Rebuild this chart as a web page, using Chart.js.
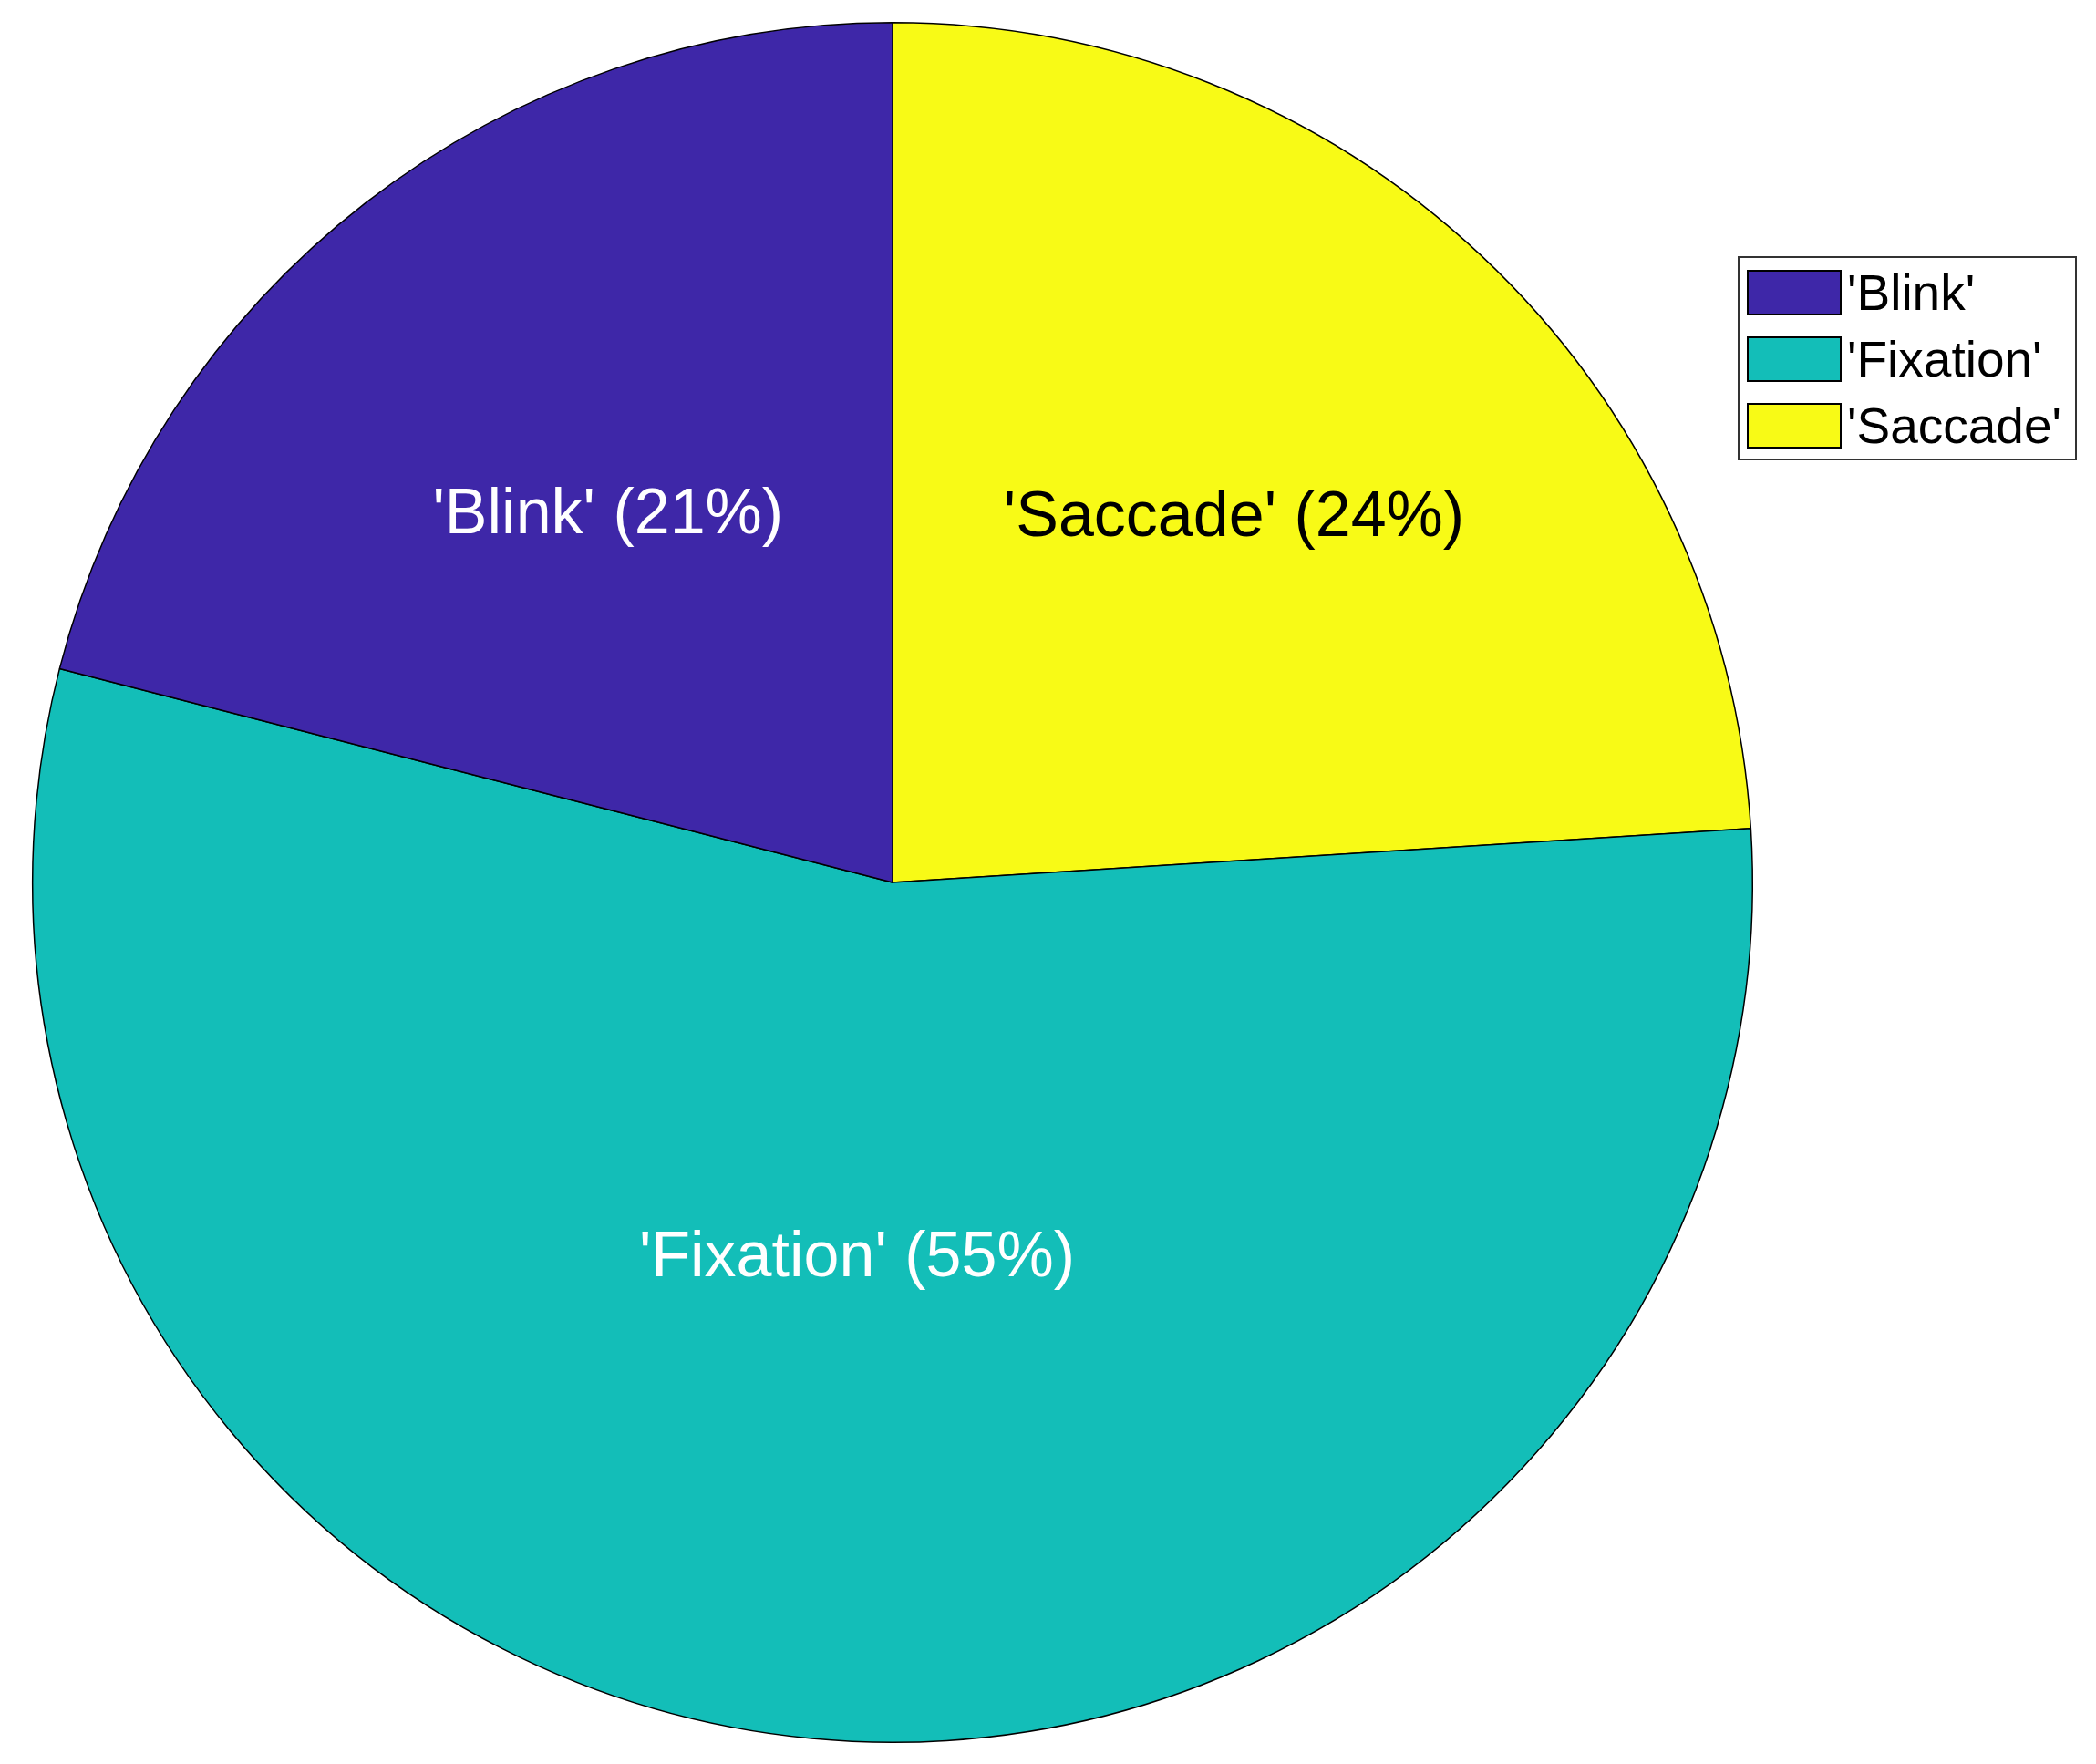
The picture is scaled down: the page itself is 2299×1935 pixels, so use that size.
<!DOCTYPE html>
<html><head><meta charset="utf-8">
<script src="https://cdn.jsdelivr.net/npm/chart.js@4/dist/chart.umd.min.js"></script>
<style>
html,body{margin:0;padding:0;background:#fff;}
#wrap{position:relative;width:2299px;height:1935px;}
#legend{position:absolute;left:1906px;top:281px;width:372px;height:224px;border:2px solid #333;background:#fff;box-sizing:border-box;font-family:"Liberation Sans",Arial,sans-serif;font-size:55px;color:#000;}
.row{position:absolute;left:8px;height:52px;display:flex;align-items:center;}
.sw{width:104px;height:50px;border:2px solid #000;box-sizing:border-box;margin-right:6px;}
</style></head><body>
<div id="wrap"><canvas id="c" width="2299" height="1935"></canvas><div id="legend"></div></div>
<script>
// Clockwise order from 12 o'clock (MATLAB draws counter-clockwise)
const categories = ["'Saccade'", "'Fixation'", "'Blink'"];
const values = [24, 55, 21];
const colors = ['#f8fa16', '#13beb8', '#3e27a8'];
const textColors = ['#000', '#fff', '#fff'];
const labelRadius = [0.58, 0.44, 0.54];
const legendOrder = [2, 1, 0];

const labelPlugin = {
  id: 'pieLabels',
  afterDatasetsDraw(chart) {
    const ctx = chart.ctx;
    const meta = chart.getDatasetMeta(0);
    ctx.save();
    ctx.font = '70px "Liberation Sans", Arial, sans-serif';
    ctx.textAlign = 'center'; ctx.textBaseline = 'middle';
    meta.data.forEach((arc, i) => {
      const mid = (arc.startAngle + arc.endAngle) / 2;
      const r = arc.outerRadius * labelRadius[i];
      const x = arc.x + Math.cos(mid) * r, y = arc.y + Math.sin(mid) * r;
      ctx.fillStyle = textColors[i];
      ctx.fillText(categories[i] + ' (' + values[i] + '%)', x, y);
    });
    ctx.restore();
  }
};

new Chart(document.getElementById('c'), {
  type: 'pie',
  data: { labels: categories, datasets: [{ data: values, backgroundColor: colors, borderColor: '#000', borderWidth: 1.5 }] },
  options: {
    responsive: false, animation: false,
    layout: { padding: { left: 35, right: 376, top: 24, bottom: 23 } },
    plugins: { legend: { display: false }, tooltip: { enabled: false } }
  },
  plugins: [labelPlugin]
});

const lg = document.getElementById('legend');
legendOrder.forEach((idx, k) => {
  const row = document.createElement('div');
  row.className = 'row'; row.style.top = (12 + k * 73) + 'px';
  row.innerHTML = '<div class="sw" style="background:' + colors[idx] + '"></div><span>' + categories[idx] + '</span>';
  lg.appendChild(row);
});
</script></body></html>
